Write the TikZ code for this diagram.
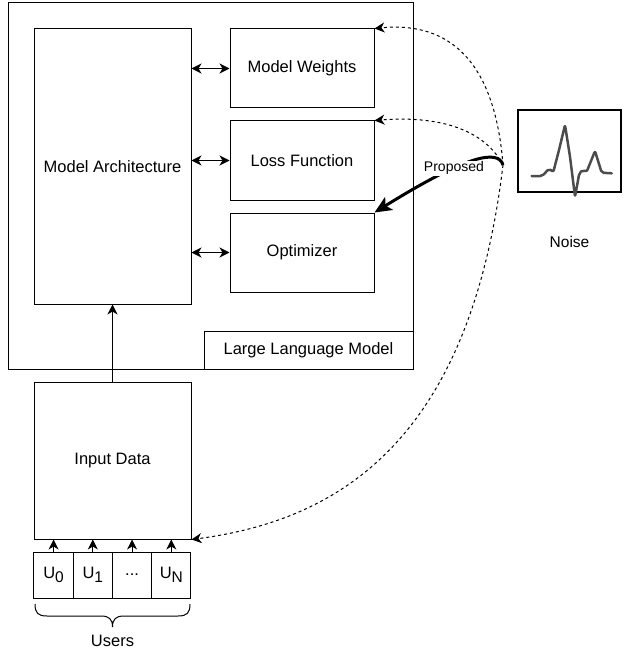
\documentclass[tikz,border=0pt]{standalone}
\usepackage{fontspec}
\setmainfont{Liberation Sans}
\usetikzlibrary{arrows.meta}

\newcommand{\usr}[1]{U\raisebox{-0.45ex}{\fontsize{15.5}{15}\selectfont #1}}
\newcommand{\usrdots}{...}

\begin{document}
\begin{tikzpicture}[x=1pt,y=-1pt,line width=1pt,
	box/.style={draw,rectangle,inner sep=0pt,font=\fontsize{16.5}{19}\selectfont},
	arr/.style={-{Stealth[length=10pt,width=10pt,inset=3pt]}},
	dblarr/.style={{Stealth[length=10pt,width=10pt,inset=3pt]}-{Stealth[length=10pt,width=10pt,inset=3pt]}},
	noisearr/.style={arr,dash pattern=on 3pt off 3pt}]
	\useasboundingbox (0,0) rectangle (624,655);
	% large language model
	\node [box,minimum width=405,minimum height=366] (llm) at (210.5,186) {};
	\node [box,minimum width=209,minimum height=38] (llmlabel) at (308.5,350) {Large Language Model};
	\node [box,minimum width=157,minimum height=275] (arch) at (112.5,166.5) {Model Architecture};
	\node [box,minimum width=144,minimum height=79] (weights) at (302,68.5) {Model Weights};
	\node [box,minimum width=144,minimum height=79] (loss) at (302,160.5) {Loss Function};
	\node [box,minimum width=144,minimum height=79] (opt) at (302,252.5) {Optimizer};
	\foreach \n in {weights,loss,opt}
		\draw [dblarr] (arch.east |- \n.west) -- (\n.west);
	% input and users
	\node [box,minimum width=157,minimum height=157] (input) at (112.5,460.5) {Input Data};
	\draw [arr] (input.north) -- (arch.south);
	\foreach \i/\t in {0/\usr{0},1/\usr{1},2/\usrdots,3/\usr{N}} {
		\node [box,minimum width=39.25,minimum height=46] (u\i) at (53.6+39.25*\i,575) {\t};
		\draw [arr] (u\i.north) -- (u\i.north |- input.south);
	}
	\draw (35,604) .. controls (35,613) and (38,616) .. (47,616) -- (101,616)
		.. controls (109,616) and (112.5,619) .. (112.5,627)
		.. controls (112.5,619) and (116,616) .. (124,616) -- (178,616)
		.. controls (187,616) and (190,613) .. (190,604);
	\node [font=\fontsize{16.5}{19}\selectfont] (users) at (112.5,641) {Users};
	% noise
	\node [draw,line width=2.5pt,minimum width=103,minimum height=82] (noise) at (569.5,151) {};
	\draw [line width=2.5pt,color=black!70,line join=round,line cap=round,rounded corners=2pt]
		(531.7,176) -- (542.3,176) -- (549,168.7) -- (553.3,172) -- (559,150) -- (565,125)
		-- (570,156.7) -- (575,196.7) -- (579.3,173.3) -- (582.7,170) -- (586.7,171.7)
		-- (595,151) -- (601.7,172.7) -- (611.7,173.3);
	\node [font=\fontsize{15.5}{18}\selectfont] (noiselabel) at (569.5,242) {Noise};
	\coordinate (src) at (503,165);
	\draw [noisearr] (src) .. controls (494,50) and (440,22) .. (weights.north east);
	\draw [noisearr] (src) .. controls (482,125) and (430,116) .. (loss.north east);
	\draw [noisearr] (src) .. controls (470,440) and (340,520) .. (input.south east);
	\draw [line width=3pt,-{Stealth[length=17pt,width=15pt,inset=4pt]}] (src) .. controls (498,148) and (464,157) .. (opt.north east)
		node [pos=0.62,fill=white,inner sep=1pt,font=\fontsize{14}{16}\selectfont] (prop) {Proposed};
\end{tikzpicture}
\end{document}
